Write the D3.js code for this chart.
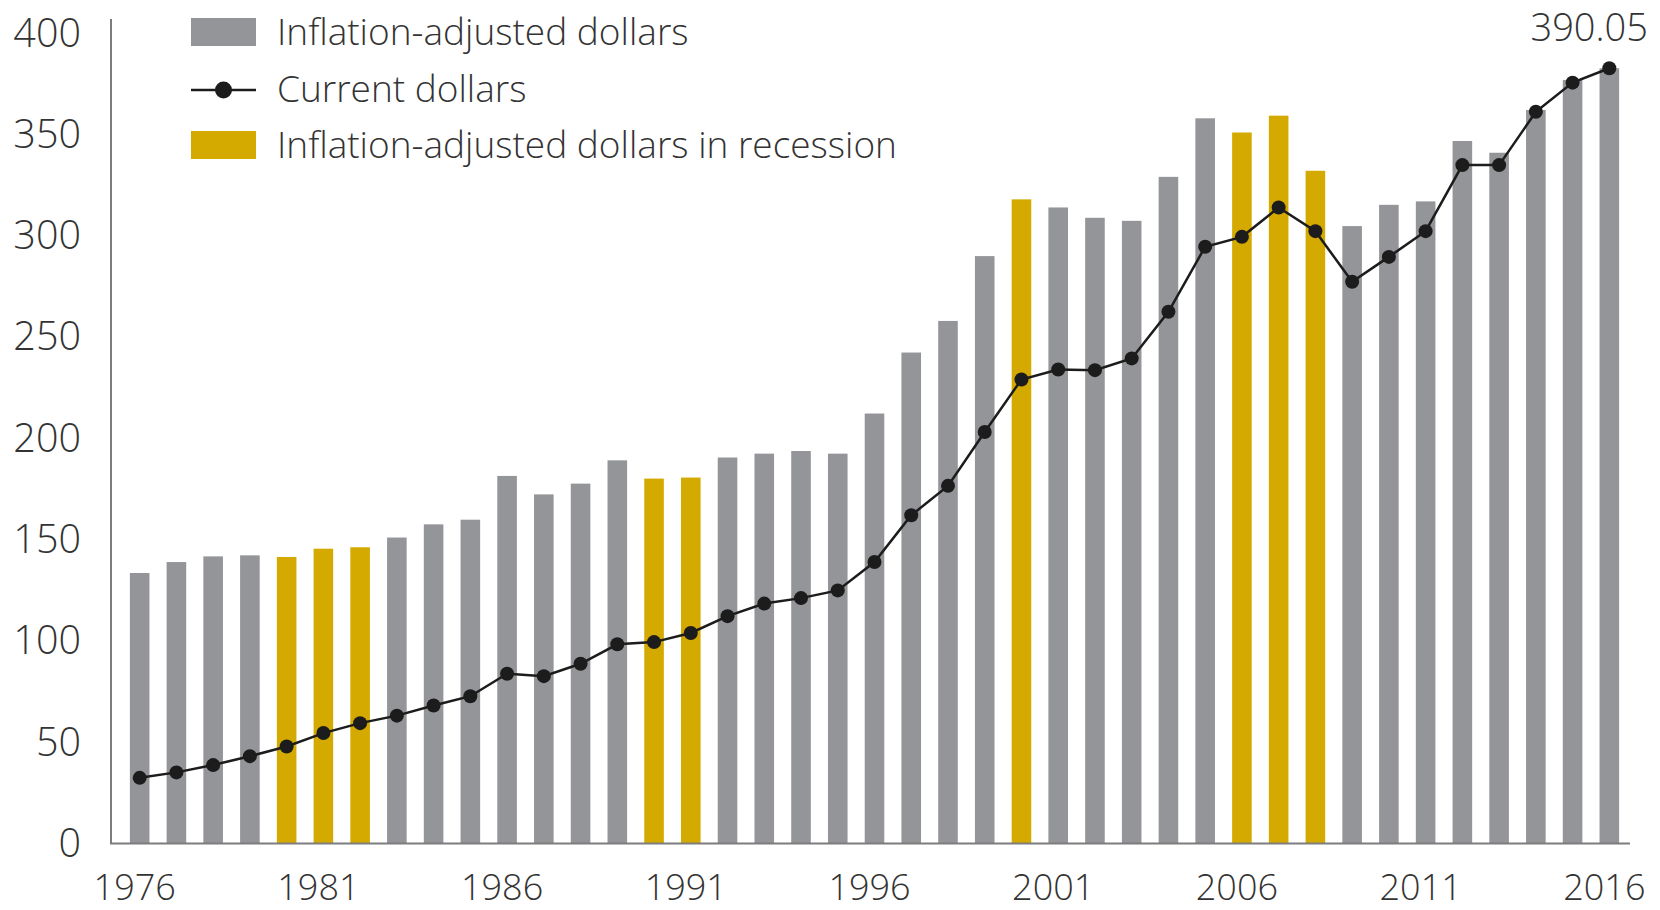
<!DOCTYPE html>
<html>
<head>
<meta charset="utf-8">
<script src="https://cdn.jsdelivr.net/npm/d3@7"></script>
<style>
  html, body { margin: 0; padding: 0; background: #ffffff; }
  svg { display: block; }
  text { font-family: "Open Sans", "Noto Sans", sans-serif; font-weight: 300; fill: #333333; }
</style>
</head>
<body>
<svg id="chart" width="1660" height="910"></svg>
<script>
const years = [1976,1977,1978,1979,1980,1981,1982,1983,1984,1985,1986,1987,1988,1989,1990,1991,1992,1993,1994,1995,1996,1997,1998,1999,2000,2001,2002,2003,2004,2005,2006,2007,2008,2009,2010,2011,2012,2013,2014,2015,2016];
const inflationAdjusted = [133.5,138.9,141.7,142.2,141.4,145.5,146.2,151.0,157.5,159.8,181.4,172.3,177.6,189.1,180.1,180.6,190.5,192.4,193.7,192.4,212.2,242.3,257.9,289.9,317.9,313.9,308.8,307.3,329.0,357.9,350.9,359.2,332.0,304.7,315.2,316.9,346.7,340.9,362.0,376.8,382.6];
const currentDollars = [32.4,35.1,38.7,43.1,47.9,54.5,59.4,63.1,68.1,72.7,83.8,82.6,88.7,98.3,99.4,103.9,112.2,118.4,121.1,124.9,138.9,162.0,176.5,203.1,229.0,233.9,233.6,239.4,262.4,294.5,299.4,313.9,302.2,277.2,289.5,302.2,334.8,334.8,361.1,375.5,382.6];
const recessionYears = [1980,1981,1982,1990,1991,2000,2006,2007,2008];
const yTicks = [0,50,100,150,200,250,300,350,400];
const xTickYears = [1976,1981,1986,1991,1996,2001,2006,2011,2016];
const legendLabels = ["Inflation-adjusted dollars","Current dollars","Inflation-adjusted dollars in recession"];
const lastLabel = "390.05";

const GRAY = "#939598", GOLD = "#d4aa00", INK = "#1c1c1c", AXIS = "#7d7d7d";

const svg = d3.select("#chart");

const x = d3.scaleBand().domain(years).range([121.3, 1627.7]).paddingInner(0.467).paddingOuter(0.2335);
const y = d3.scaleLinear().domain([0, 400]).range([843.5, 33]);

// bars
svg.append("g").selectAll("rect").data(years).join("rect")
  .attr("x", d => x(d))
  .attr("width", x.bandwidth())
  .attr("y", (d, i) => y(inflationAdjusted[i]))
  .attr("height", (d, i) => y(0) - y(inflationAdjusted[i]))
  .attr("fill", d => recessionYears.includes(d) ? GOLD : GRAY);

// y axis
const yAxis = d3.axisLeft(y).tickValues(yTicks).tickSize(0).tickPadding(30);
const gy = svg.append("g").attr("transform", "translate(111,0)").call(yAxis);
gy.select(".domain").remove();
gy.selectAll("text").style("font-size", "39.5px").style("font-family", null).attr("fill", "#333333").attr("dy", "0.33em");
svg.append("line").attr("x1", 111).attr("x2", 111).attr("y1", 19).attr("y2", y(0))
  .attr("stroke", AXIS).attr("stroke-width", 2);

// x axis
const xAxis = d3.axisBottom(x).tickValues(xTickYears).tickSize(0).tickPadding(31);
const gx = svg.append("g").attr("transform", `translate(0,${y(0)})`).call(xAxis);
gx.select(".domain").remove();
gx.selectAll("text").style("font-size", "36px").style("font-family", null).attr("fill", "#333333").attr("dx", -5);
svg.append("line").attr("x1", 110).attr("x2", 1630).attr("y1", y(0)).attr("y2", y(0))
  .attr("stroke", AXIS).attr("stroke-width", 2);

// current dollars line
const cx = (d, i) => x(years[i]) + x.bandwidth() / 2;
const line = d3.line().x(cx).y(d => y(d));
svg.append("path").datum(currentDollars).attr("d", line)
  .attr("fill", "none").attr("stroke", INK).attr("stroke-width", 2.5);
svg.append("g").selectAll("circle").data(currentDollars).join("circle")
  .attr("cx", cx).attr("cy", d => y(d)).attr("r", 7).attr("fill", INK);

// last value label
svg.append("text").attr("x", 1648).attr("y", 26).attr("text-anchor", "end")
  .attr("dominant-baseline", "central").style("font-size", "38px").text(lastLabel);

// legend
const lg = svg.append("g");
const rowY = [32, 90, 145];
const textY = [30, 87, 143];
lg.append("rect").attr("x", 191).attr("y", rowY[0] - 14).attr("width", 65).attr("height", 28).attr("fill", GRAY);
lg.append("line").attr("x1", 191).attr("x2", 256).attr("y1", rowY[1]).attr("y2", rowY[1]).attr("stroke", INK).attr("stroke-width", 2.5);
lg.append("circle").attr("cx", 223.5).attr("cy", rowY[1]).attr("r", 8.5).attr("fill", INK);
lg.append("rect").attr("x", 191).attr("y", rowY[2] - 14).attr("width", 65).attr("height", 28).attr("fill", GOLD);
lg.selectAll("text").data(legendLabels).join("text")
  .attr("x", 277).attr("y", (d, i) => textY[i]).attr("dominant-baseline", "central")
  .style("font-size", "37px").text(d => d);
</script>
</body>
</html>
